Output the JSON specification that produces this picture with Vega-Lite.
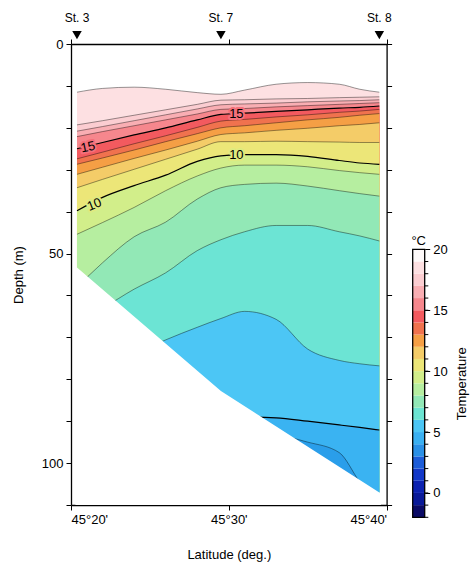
{
  "$schema": "https://vega.github.io/schema/vega-lite/v6.json",
  "background": "white",
  "padding": {"left": 12, "top": 12, "right": 5, "bottom": 5},
  "config": {
    "font": "Liberation Sans",
    "view": {"stroke": null},
    "axis": {"domainColor": "black", "domainWidth": 1.3, "tickColor": "black", "tickWidth": 1, "tickSize": 5, "labelColor": "black", "labelFontSize": 13, "titleColor": "black", "titleFontSize": 13, "titleFontWeight": "normal", "grid": false, "zindex": 1, "labelOverlap": false}
  },
  "datasets": {
    "sec": [
      {"lat":0.38,"top":11.5,"t18":19.3,"t17":20.8,"t16":22.1,"t15":25.0,"t14":27.4,"t13":28.7,"t12":31.1,"t11":34.3,"t10":39.8,"t9":45.4,"t8":58,"t7":66,"t6":82,"t5":100,"t4":110},
      {"lat":2,"top":10.6,"t18":18.3,"t17":19.7,"t16":20.9,"t15":23.5,"t14":25.8,"t13":27.2,"t12":29.4,"t11":32.3,"t10":36.6,"t9":42.6,"t8":52.2,"t7":63,"t6":78,"t5":98,"t4":108},
      {"lat":4,"top":10.3,"t18":17.0,"t17":18.3,"t16":19.5,"t15":21.7,"t14":23.8,"t13":25.3,"t12":27.3,"t11":29.9,"t10":33.8,"t9":39.0,"t8":46.0,"t7":58.5,"t6":74,"t5":96,"t4":106},
      {"lat":6,"top":10.8,"t18":15.7,"t17":16.9,"t16":18.1,"t15":20.0,"t14":21.9,"t13":23.3,"t12":25.3,"t11":27.5,"t10":31.3,"t9":35.0,"t8":42.5,"t7":54.6,"t6":70.6,"t5":94,"t4":104},
      {"lat":8,"top":11.6,"t18":14.4,"t17":15.5,"t16":16.7,"t15":18.1,"t14":19.9,"t13":21.4,"t12":23.2,"t11":25.1,"t10":28.0,"t9":31.5,"t8":37.0,"t7":49.3,"t6":67.6,"t5":92,"t4":102},
      {"lat":9.5,"top":12.0,"t18":13.4,"t17":14.5,"t16":15.6,"t15":16.8,"t14":18.4,"t13":20.0,"t12":21.6,"t11":23.3,"t10":26.7,"t9":29.6,"t8":34.3,"t7":46.7,"t6":65.5,"t5":91,"t4":100},
      {"lat":11,"top":11.0,"t18":13.3,"t17":14.3,"t16":15.4,"t15":16.5,"t14":18.0,"t13":19.5,"t12":21.2,"t11":23.3,"t10":26.4,"t9":28.9,"t8":33.5,"t7":44.8,"t6":63.8,"t5":89.0,"t4":98},
      {"lat":13,"top":9.6,"t18":13.1,"t17":14.1,"t16":15.0,"t15":16.1,"t14":17.4,"t13":18.8,"t12":20.6,"t11":23.2,"t10":26.4,"t9":28.9,"t8":33.2,"t7":43.3,"t6":65.7,"t5":89.2,"t4":93.5},
      {"lat":15,"top":9.2,"t18":13.0,"t17":13.8,"t16":14.7,"t15":15.7,"t14":16.9,"t13":18.1,"t12":20.1,"t11":23.3,"t10":26.8,"t9":29.3,"t8":33.9,"t7":43.3,"t6":72.8,"t5":90.0,"t4":95.0},
      {"lat":17,"top":9.6,"t18":12.8,"t17":13.6,"t16":14.4,"t15":15.3,"t14":16.3,"t13":17.5,"t12":19.5,"t11":23.4,"t10":27.8,"t9":30.2,"t8":35.0,"t7":44.8,"t6":75.5,"t5":90.9,"t4":97.5},
      {"lat":18.3,"top":10.8,"t18":12.7,"t17":13.5,"t16":14.2,"t15":15.1,"t14":16.0,"t13":17.0,"t12":19.2,"t11":23.5,"t10":28.4,"t9":30.7,"t8":35.7,"t7":45.8,"t6":76.3,"t5":91.5,"t4":104.5},
      {"lat":19.54,"top":11.5,"t18":12.6,"t17":13.3,"t16":14.0,"t15":14.8,"t14":15.6,"t13":16.6,"t12":18.8,"t11":23.5,"t10":28.7,"t9":31.1,"t8":36.3,"t7":47.0,"t6":76.8,"t5":92.1,"t4":110}
    ],
    "bottom": [
      {"lat":0.28,"d":53.3},{"lat":0.38,"d":53.3},{"lat":9.5,"d":82.8},{"lat":19.54,"d":107},{"lat":19.64,"d":107}
    ],
    "stations": [
      {"name":"St. 3","lat":0.38},{"name":"St. 7","lat":9.5},{"name":"St. 8","lat":19.54}
    ],
    "labs": [
      {"lab":"15","lat":1.08,"d":24.6},{"lab":"10","lat":1.48,"d":38.3},{"lab":"15","lat":10.48,"d":16.6},{"lab":"10","lat":10.48,"d":26.5}
    ],
    "cbar": [
      {"lo":-2,"hi":-1},{"lo":-1,"hi":0},{"lo":0,"hi":1},{"lo":1,"hi":2},{"lo":2,"hi":3},{"lo":3,"hi":4},{"lo":4,"hi":5},{"lo":5,"hi":6},{"lo":6,"hi":7},{"lo":7,"hi":8},{"lo":8,"hi":9},{"lo":9,"hi":10},{"lo":10,"hi":11},{"lo":11,"hi":12},{"lo":12,"hi":13},{"lo":13,"hi":14},{"lo":14,"hi":15},{"lo":15,"hi":16},{"lo":16,"hi":17},{"lo":17,"hi":18},{"lo":18,"hi":19},{"lo":19,"hi":20}
    ]
  },
  "bounds": "flush",
  "spacing": 25.7,
  "hconcat": [
    {
      "width": 315.6,
      "height": 461,
      "resolve": {"axis": {"x": "independent", "y": "independent"}},
      "encoding": {
        "x": {"field": "lat", "type": "quantitative", "scale": {"domain": [0, 20], "nice": false}, "axis": null}
      },
      "layer": [
        {"data": {"name": "sec"}, "mark": {"type": "area", "interpolate": "monotone", "color": "#fde0e2"},
         "encoding": {
           "x": {"field": "lat", "type": "quantitative", "scale": {"domain": [0, 20], "nice": false},
                 "axis": {"orient": "bottom", "values": [0, 10, 20], "labelExpr": "datum.value == 0 ? \"45°20'\" : datum.value == 10 ? \"45°30'\" : \"45°40'\"", "title": "Latitude (deg.)", "titlePadding": 22, "labelPadding": 3}},
           "y": {"field": "top", "type": "quantitative", "scale": {"domain": [0, 110], "nice": false, "reverse": true},
                 "axis": {"orient": "left", "values": [0,10,20,30,40,50,60,70,80,90,100,110], "labelExpr": "datum.value % 50 == 0 ? datum.label : ''", "title": "Depth (m)", "titlePadding": 16, "labelPadding": 3}},
           "y2": {"datum": 110}}},
        {"data": {"name": "sec"}, "mark": {"type": "area", "interpolate": "monotone", "color": "#fbcdd1"},
         "encoding": {"y": {"field": "t18", "type": "quantitative", "scale": {"domain": [0, 110], "nice": false, "reverse": true}, "axis": null}, "y2": {"datum": 110}}},
        {"data": {"name": "sec"}, "mark": {"type": "area", "interpolate": "monotone", "color": "#f9aeb3"},
         "encoding": {"y": {"field": "t17", "type": "quantitative", "scale": {"domain": [0, 110], "nice": false, "reverse": true}, "axis": null}, "y2": {"datum": 110}}},
        {"data": {"name": "sec"}, "mark": {"type": "area", "interpolate": "monotone", "color": "#f6878d"},
         "encoding": {"y": {"field": "t16", "type": "quantitative", "scale": {"domain": [0, 110], "nice": false, "reverse": true}, "axis": null}, "y2": {"datum": 110}}},
        {"data": {"name": "sec"}, "mark": {"type": "area", "interpolate": "monotone", "color": "#f35a5f"},
         "encoding": {"y": {"field": "t15", "type": "quantitative", "scale": {"domain": [0, 110], "nice": false, "reverse": true}, "axis": null}, "y2": {"datum": 110}}},
        {"data": {"name": "sec"}, "mark": {"type": "area", "interpolate": "monotone", "color": "#f0724e"},
         "encoding": {"y": {"field": "t14", "type": "quantitative", "scale": {"domain": [0, 110], "nice": false, "reverse": true}, "axis": null}, "y2": {"datum": 110}}},
        {"data": {"name": "sec"}, "mark": {"type": "area", "interpolate": "monotone", "color": "#f59f45"},
         "encoding": {"y": {"field": "t13", "type": "quantitative", "scale": {"domain": [0, 110], "nice": false, "reverse": true}, "axis": null}, "y2": {"datum": 110}}},
        {"data": {"name": "sec"}, "mark": {"type": "area", "interpolate": "monotone", "color": "#f4cc68"},
         "encoding": {"y": {"field": "t12", "type": "quantitative", "scale": {"domain": [0, 110], "nice": false, "reverse": true}, "axis": null}, "y2": {"datum": 110}}},
        {"data": {"name": "sec"}, "mark": {"type": "area", "interpolate": "monotone", "color": "#ece678"},
         "encoding": {"y": {"field": "t11", "type": "quantitative", "scale": {"domain": [0, 110], "nice": false, "reverse": true}, "axis": null}, "y2": {"datum": 110}}},
        {"data": {"name": "sec"}, "mark": {"type": "area", "interpolate": "monotone", "color": "#d2ee8a"},
         "encoding": {"y": {"field": "t10", "type": "quantitative", "scale": {"domain": [0, 110], "nice": false, "reverse": true}, "axis": null}, "y2": {"datum": 110}}},
        {"data": {"name": "sec"}, "mark": {"type": "area", "interpolate": "monotone", "color": "#b6eea0"},
         "encoding": {"y": {"field": "t9", "type": "quantitative", "scale": {"domain": [0, 110], "nice": false, "reverse": true}, "axis": null}, "y2": {"datum": 110}}},
        {"data": {"name": "sec"}, "mark": {"type": "area", "interpolate": "monotone", "color": "#92e8b6"},
         "encoding": {"y": {"field": "t8", "type": "quantitative", "scale": {"domain": [0, 110], "nice": false, "reverse": true}, "axis": null}, "y2": {"datum": 110}}},
        {"data": {"name": "sec"}, "mark": {"type": "area", "interpolate": "monotone", "color": "#6ce4d4"},
         "encoding": {"y": {"field": "t7", "type": "quantitative", "scale": {"domain": [0, 110], "nice": false, "reverse": true}, "axis": null}, "y2": {"datum": 110}}},
        {"data": {"name": "sec"}, "mark": {"type": "area", "interpolate": "monotone", "color": "#4cc6f5"},
         "encoding": {"y": {"field": "t6", "type": "quantitative", "scale": {"domain": [0, 110], "nice": false, "reverse": true}, "axis": null}, "y2": {"datum": 110}}},
        {"data": {"name": "sec"}, "mark": {"type": "area", "interpolate": "monotone", "color": "#3ab3f2"},
         "encoding": {"y": {"field": "t5", "type": "quantitative", "scale": {"domain": [0, 110], "nice": false, "reverse": true}, "axis": null}, "y2": {"datum": 110}}},
        {"data": {"name": "sec"}, "mark": {"type": "area", "interpolate": "monotone", "color": "#2a9eea"},
         "encoding": {"y": {"field": "t4", "type": "quantitative", "scale": {"domain": [0, 110], "nice": false, "reverse": true}, "axis": null}, "y2": {"datum": 110}}},
        {"data": {"name": "sec"},
         "transform": [{"fold": ["top","t18","t17","t16","t15","t14","t13","t12","t11","t10","t9","t8","t7","t6","t5","t4"], "as": ["iso", "d"]}],
         "mark": {"type": "line", "interpolate": "monotone", "color": "black"},
         "encoding": {
           "y": {"field": "d", "type": "quantitative", "scale": {"domain": [0, 110], "nice": false, "reverse": true}, "axis": null},
           "detail": {"field": "iso"},
           "strokeWidth": {"condition": {"test": "datum.iso === 't15' || datum.iso === 't10' || datum.iso === 't5'", "value": 1.2}, "value": 0.55},
           "strokeOpacity": {"condition": {"test": "datum.iso === 't15' || datum.iso === 't10' || datum.iso === 't5'", "value": 1}, "value": 0.75}}},
        {"data": {"name": "bottom"}, "mark": {"type": "area", "interpolate": "linear", "color": "white"},
         "encoding": {
           "x": {"field": "lat", "type": "quantitative", "scale": {"domain": [0, 20], "nice": false},
                 "axis": {"orient": "top", "values": [0, 10, 20], "labels": false, "title": null}},
           "y": {"field": "d", "type": "quantitative", "scale": {"domain": [0, 110], "nice": false, "reverse": true},
                 "axis": {"orient": "right", "values": [0,10,20,30,40,50,60,70,80,90,100,110], "labels": false, "title": null}},
           "y2": {"datum": 110}}},
        {"data": {"name": "labs"}, "mark": {"type": "text", "fontSize": 13, "strokeWidth": 4, "strokeJoin": "round", "baseline": "middle", "align": "center"},
         "encoding": {
           "y": {"field": "d", "type": "quantitative", "scale": {"domain": [0, 110], "nice": false, "reverse": true}, "axis": null},
           "text": {"field": "lab"},
           "angle": {"condition": [{"test": "datum.lab == '10' && datum.lat < 5", "value": 338}, {"test": "datum.lab == '15' && datum.lat < 5", "value": 348}], "value": 0},
           "fill": {"condition": {"test": "datum.lab == '10'", "value": "#dfea80"}, "value": "#f4707a"},
           "stroke": {"condition": {"test": "datum.lab == '10'", "value": "#dfea80"}, "value": "#f4707a"}}},
        {"data": {"name": "labs"}, "mark": {"type": "text", "fontSize": 13, "baseline": "middle", "align": "center", "color": "black"},
         "encoding": {
           "y": {"field": "d", "type": "quantitative", "scale": {"domain": [0, 110], "nice": false, "reverse": true}, "axis": null},
           "text": {"field": "lab"},
           "angle": {"condition": [{"test": "datum.lab == '10' && datum.lat < 5", "value": 338}, {"test": "datum.lab == '15' && datum.lat < 5", "value": 348}], "value": 0}}},
        {"data": {"name": "stations"}, "mark": {"type": "point", "shape": "triangle-down", "filled": true, "color": "black", "size": 90, "opacity": 1},
         "encoding": {"y": {"datum": -2.1, "scale": {"domain": [0, 110], "nice": false, "reverse": true}, "axis": null}}},
        {"data": {"name": "stations"}, "mark": {"type": "text", "fontSize": 12, "baseline": "middle", "align": "center", "color": "black"},
         "encoding": {"y": {"datum": -6.1, "scale": {"domain": [0, 110], "nice": false, "reverse": true}, "axis": null}, "text": {"field": "name"}}}
      ]
    },
    {
      "width": 12,
      "height": 473.3,
      "layer": [
        {"data": {"name": "cbar"}, "mark": {"type": "rect"},
         "encoding": {
           "x": {"datum": 0, "scale": {"domain": [0, 1], "nice": false, "zero": false}, "axis": null},
           "x2": {"datum": 1},
           "y": {"field": "lo", "type": "quantitative", "scale": {"domain": [-2, 36.86], "nice": false, "zero": false},
                 "axis": {"orient": "right", "values": [0, 5, 10, 15, 20], "domain": false, "tickSize": 5, "labelPadding": 3, "labelFontSize": 13, "title": "Temperature", "titleAngle": 270, "titleBaseline": "top", "titleY": 339.3, "titlePadding": 8}},
           "y2": {"field": "hi"},
           "color": {"field": "lo", "type": "ordinal", "legend": null,
                     "scale": {"domain": [-2,-1,0,1,2,3,4,5,6,7,8,9,10,11,12,13,14,15,16,17,18,19],
                               "range": ["#0b0b66","#0a1a98","#0c22b0","#1238c8","#1c5cd8","#2a90e6","#3ab0f2","#4cc6f5","#6ce4d2","#92e8b6","#b6eea0","#d2ee8a","#ece678","#f4cc68","#f59f45","#f0724e","#f35a5f","#f6878d","#f9aeb3","#fbcdd1","#fde0e2","#fefafa"]}}}},
        {"data": {"name": "cbar"}, "mark": {"type": "rule", "color": "black", "strokeWidth": 1},
         "encoding": {"x": {"datum": 1}, "x2": {"datum": 1.3}, "y": {"field": "lo", "type": "quantitative"}}},
        {"data": {"values": [{}]}, "mark": {"type": "rect", "fillOpacity": 0, "stroke": "black", "strokeWidth": 1.3},
         "encoding": {"x": {"datum": 0}, "x2": {"datum": 1}, "y": {"datum": -2}, "y2": {"datum": 20}}},
        {"data": {"values": [{}]}, "mark": {"type": "text", "text": "°C", "fontSize": 13, "baseline": "bottom", "align": "center", "dy": -1, "color": "black"},
         "encoding": {"x": {"datum": 0.5}, "y": {"datum": 20}}}
      ]
    }
  ]
}
